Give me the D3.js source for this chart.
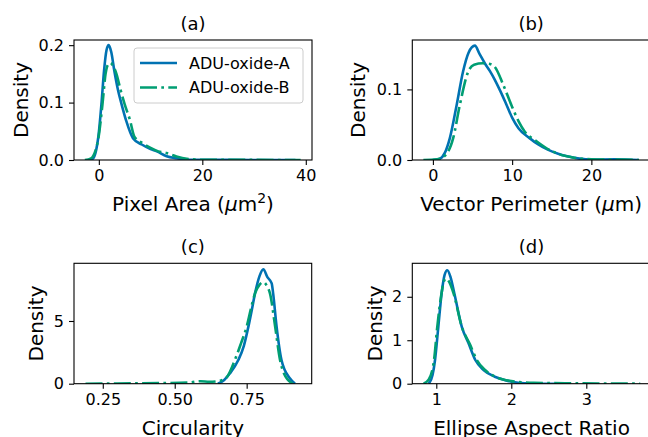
<!DOCTYPE html>
<html>
<head>
<meta charset="utf-8">
<script src="https://cdn.jsdelivr.net/npm/d3@7"></script>
<style>
  body { margin: 0; background: #fff; }
  svg { font-family: "DejaVu Sans", sans-serif; }
</style>
</head>
<body>
<svg id="chart" width="648" height="437"></svg>
<script>
// series names
const seriesNames = ['ADU-oxide-A', 'ADU-oxide-B'];

// (a) Pixel Area
const areaXA = [-2.0, -1.2, -0.5, -0.1, 0.5, 1.0, 1.5, 1.9, 2.4, 3.0, 3.7, 4.4, 5.3, 6.6, 8.3, 10, 11.2, 13.1, 15, 17.6, 20, 30, 38];
const areaYA = [0, 0.002, 0.018, 0.04, 0.097, 0.155, 0.192, 0.200, 0.188, 0.155, 0.122, 0.097, 0.068, 0.038, 0.027, 0.019, 0.015, 0.0065, 0.003, 0.0005, 0.0002, 0.0001, 0];
const areaXB = [-2.7, -1.5, -0.7, -0.05, 0.7, 1.3, 1.7, 2.2, 2.8, 3.4, 4.2, 5.0, 6.0, 6.9, 8.5, 10, 11.5, 13.1, 15, 17, 20, 30, 39];
const areaYB = [0, 0.003, 0.015, 0.04, 0.097, 0.150, 0.165, 0.169, 0.163, 0.150, 0.122, 0.097, 0.07, 0.04, 0.029, 0.021, 0.015, 0.012, 0.006, 0.002, 0.0005, 0.0002, 0];

// (b) Vector Perimeter
const perimXA = [0.0, 0.9, 1.5, 2.14, 3.0, 3.8, 4.5, 5.3, 5.9, 6.55, 7.2, 7.8, 8.5, 9.3, 10.0, 10.8, 12.2, 13.3, 14.5, 15.8, 17.1, 18.5, 20, 23, 26];
const perimYA = [0, 0.002, 0.01, 0.031, 0.078, 0.125, 0.152, 0.162, 0.150, 0.137, 0.126, 0.114, 0.098, 0.078, 0.060, 0.045, 0.031, 0.022, 0.0146, 0.009, 0.005, 0.002, 0.0007, 0.001, 0];
const perimXB = [-1.2, 0.5, 1.5, 2.56, 3.4, 4.45, 5.2, 6.3, 7.2, 7.8, 8.9, 9.9, 10.8, 11.6, 12.9, 14.3, 16, 17.5, 20, 23, 26];
const perimYB = [0, 0.001, 0.006, 0.031, 0.078, 0.125, 0.135, 0.137, 0.136, 0.132, 0.106, 0.078, 0.055, 0.040, 0.028, 0.017, 0.008, 0.004, 0.001, 0.0005, 0];

// (c) Circularity
const circXA = [0.65, 0.672, 0.692, 0.721, 0.74, 0.756, 0.768, 0.779, 0.795, 0.808, 0.822, 0.837, 0.842, 0.854, 0.871, 0.9, 0.918];
const circYA = [0, 0.3, 0.83, 1.89, 3.0, 4.55, 5.9, 7.2, 8.6, 9.12, 8.5, 8.0, 7.2, 4.55, 1.89, 0.43, 0];
const circXB = [0.19, 0.3, 0.45, 0.55, 0.59, 0.62, 0.65, 0.68, 0.709, 0.73, 0.75, 0.765, 0.779, 0.795, 0.808, 0.82, 0.831, 0.849, 0.866, 0.88, 0.91];
const circYB = [0, 0.02, 0.05, 0.1, 0.2, 0.15, 0.2, 0.5, 1.89, 3.2, 4.55, 6.0, 7.2, 7.9, 8.1, 7.8, 7.2, 4.55, 1.89, 0.8, 0];

// (d) Ellipse Aspect Ratio
const ratioXA = [0.9, 0.95, 0.983, 1.027, 1.071, 1.11, 1.147, 1.19, 1.24, 1.34, 1.43, 1.52, 1.63, 1.78, 1.92, 2.09, 2.3, 2.6];
const ratioYA = [0, 0.2, 0.545, 1.31, 2.08, 2.5, 2.61, 2.45, 2.08, 1.31, 0.93, 0.545, 0.315, 0.16, 0.08, 0.02, 0.005, 0];
const ratioXB = [0.83, 0.9, 0.97, 1.013, 1.07, 1.10, 1.13, 1.17, 1.23, 1.34, 1.45, 1.54, 1.65, 1.8, 2.0, 2.3, 2.8, 3.3, 3.72];
const ratioYB = [0, 0.1, 0.545, 1.31, 2.08, 2.35, 2.42, 2.35, 2.08, 1.31, 0.9, 0.545, 0.315, 0.15, 0.06, 0.02, 0.01, 0.005, 0];

// tick values
const areaXTicks = [0, 20, 40], areaYTicks = [0, 0.1, 0.2];
const perimXTicks = [0, 10, 20], perimYTicks = [0, 0.1];
const circXTicks = [0.25, 0.5, 0.75], circYTicks = [0, 5];
const ratioXTicks = [1, 2, 3], ratioYTicks = [0, 1, 2];

const colors = ['#0072b2', '#009e73'];

const panels = [
  { title: '(a)', xs: [areaXA, areaXB], ys: [areaYA, areaYB], xTicks: areaXTicks, yTicks: areaYTicks,
    xFmt: d3.format('d'), yFmt: d3.format('.1f'), xDom: [-4.8, 41.2], yDom: [0, 0.209],
    box: [74, 40, 312, 160], label: 'area', ylx: 21, legend: true },
  { title: '(b)', xs: [perimXA, perimXB], ys: [perimYA, perimYB], xTicks: perimXTicks, yTicks: perimYTicks,
    xFmt: d3.format('d'), yFmt: d3.format('.1f'), xDom: [-2.6, 27.4], yDom: [0, 0.17],
    box: [412.3, 40, 650, 160], label: 'perim', ylx: 358 },
  { title: '(c)', xs: [circXA, circXB], ys: [circYA, circYB], xTicks: circXTicks, yTicks: circYTicks,
    xFmt: d3.format('.2f'), yFmt: d3.format('d'), xDom: [0.15, 0.976], yDom: [0, 9.6],
    box: [74, 263.3, 311.7, 383.7], label: 'circ', ylx: 36 },
  { title: '(d)', xs: [ratioXA, ratioXB], ys: [ratioYA, ratioYB], xTicks: ratioXTicks, yTicks: ratioYTicks,
    xFmt: d3.format('d'), yFmt: d3.format('d'), xDom: [0.68, 3.86], yDom: [0, 2.77],
    box: [412.3, 263.3, 650.8, 383.7], label: 'ratio', ylx: 375 }
];

const svg = d3.select('#chart');

panels.forEach((p, pi) => {
  const [x0, y0, x1, y1] = p.box;
  const x = d3.scaleLinear().domain(p.xDom).range([x0, x1]);
  const y = d3.scaleLinear().domain(p.yDom).range([y1, y0]);
  const g = svg.append('g');

  g.append('clipPath').attr('id', 'clip' + pi)
    .append('rect').attr('x', x0).attr('y', y0).attr('width', x1 - x0).attr('height', y1 - y0);

  const line = d3.line().x(d => x(d[0])).y(d => y(d[1])).curve(d3.curveMonotoneX);

  // green drawn first, blue on top? matplotlib draws A then B
  [0, 1].forEach(si => {
    const pts = p.xs[si].map((v, i) => [v, p.ys[si][i]]);
    g.append('path')
      .datum(pts)
      .attr('clip-path', `url(#clip${pi})`)
      .attr('fill', 'none')
      .attr('stroke', colors[si])
      .attr('stroke-width', 2.6)
      .attr('stroke-linejoin', 'round')
      .attr('stroke-dasharray', si === 1 ? '17,4.3,2.7,4.3' : null)
      .attr('d', line);
  });

  // axes
  const xAxis = g.append('g').attr('transform', `translate(0,${y1})`)
    .call(d3.axisBottom(x).tickValues(p.xTicks).tickFormat(p.xFmt).tickSize(5).tickPadding(5));
  const yAxis = g.append('g').attr('transform', `translate(${x0},0)`)
    .call(d3.axisLeft(y).tickValues(p.yTicks).tickFormat(p.yFmt).tickSize(5).tickPadding(5));
  [xAxis, yAxis].forEach(a => {
    a.select('.domain').remove();
    a.selectAll('line').attr('stroke', '#000').attr('stroke-width', 1.1);
    a.selectAll('text').attr('font-size', 16).attr('fill', '#000')
      .attr('font-family', '"DejaVu Sans", sans-serif');
  });

  g.append('rect').attr('x', x0).attr('y', y0).attr('width', x1 - x0).attr('height', y1 - y0)
    .attr('fill', 'none').attr('stroke', '#000').attr('stroke-width', 1.1);

  const cx = (x0 + x1) / 2;
  g.append('text').attr('x', cx).attr('y', y0 - 10).attr('text-anchor', 'middle')
    .attr('font-size', 18).text(p.title);

  g.append('text').attr('transform', `translate(${p.ylx},${(y0 + y1) / 2}) rotate(-90)`)
    .attr('text-anchor', 'middle').attr('dy', '0.35em').attr('font-size', 20).text('Density');

  const xl = g.append('text').attr('x', cx).attr('y', y1 + 51).attr('text-anchor', 'middle').attr('font-size', 20);
  if (p.label === 'area') {
    xl.append('tspan').text('Pixel Area (');
    xl.append('tspan').attr('font-style', 'italic').text('\u03bc');
    xl.append('tspan').text('m');
    xl.append('tspan').attr('font-size', 14).attr('dy', -8).text('2');
    xl.append('tspan').attr('dy', 8).text(')');
  } else if (p.label === 'perim') {
    xl.append('tspan').text('Vector Perimeter (');
    xl.append('tspan').attr('font-style', 'italic').text('\u03bc');
    xl.append('tspan').text('m)');
  } else if (p.label === 'circ') {
    xl.text('Circularity');
  } else {
    xl.text('Ellipse Aspect Ratio');
  }

  if (p.legend) {
    const lg = g.append('g');
    lg.append('rect').attr('x', 134).attr('y', 48).attr('width', 169).attr('height', 55).attr('rx', 3)
      .attr('fill', '#fff').attr('fill-opacity', 0.8).attr('stroke', '#ccc').attr('stroke-width', 1);
    seriesNames.forEach((name, si) => {
      const ly = 63 + si * 24.5;
      lg.append('line').attr('x1', 140).attr('x2', 177).attr('y1', ly).attr('y2', ly)
        .attr('stroke', colors[si]).attr('stroke-width', 2.6)
        .attr('stroke-dasharray', si === 1 ? '17,4.3,2.7,4.3' : null);
      lg.append('text').attr('x', 189).attr('y', ly).attr('dy', '0.35em').attr('font-size', 16).text(name);
    });
  }
});
</script>
</body>
</html>
